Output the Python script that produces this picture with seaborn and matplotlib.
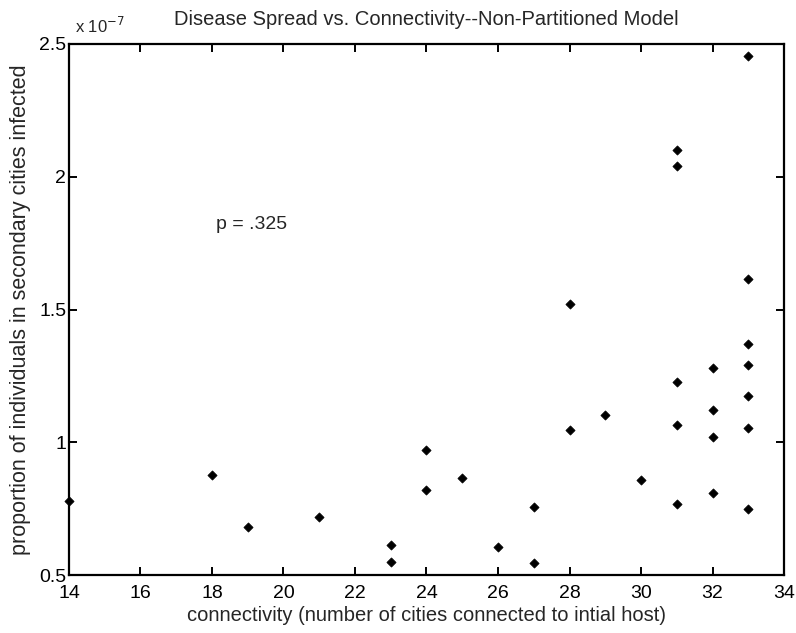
import matplotlib
matplotlib.use("Agg")
import matplotlib.pyplot as plt
import seaborn as sns
import pandas as pd

# connectivity (number of cities connected to initial host)
connectivity = [14, 18, 19, 21, 23, 23, 24, 24,
                25, 26, 27, 27, 28, 30, 31, 31, 32, 32, 33, 33,
                31, 31, 33, 28, 33, 33, 32, 31, 33, 32, 29, 33]
# proportion infected, in units of 1e-7
proportion_e7 = [0.78, 0.875, 0.68, 0.717, 0.613, 0.55, 0.97, 0.822,
                 0.864, 0.606, 0.755, 0.546, 1.048, 0.856, 0.767, 1.064, 0.808, 1.02, 0.748, 1.052,
                 2.10, 2.041, 1.615, 1.52, 1.37, 1.29, 1.281, 1.228, 1.174, 1.12, 1.104, 2.455]

x_ticks = [14, 16, 18, 20, 22, 24, 26, 28, 30, 32, 34]
y_ticks = [0.5, 1, 1.5, 2, 2.5]
y_tick_labels = ["0.5", "1", "1.5", "2", "2.5"]

df = pd.DataFrame({"connectivity": connectivity, "proportion": proportion_e7})

sns.set_style("white")
plt.rcParams["font.family"] = ["Liberation Sans", "DejaVu Sans"]

fig = plt.figure(figsize=(7.96, 6.33), dpi=100)
ax = fig.add_axes([69 / 796, 1 - 575 / 633, (784 - 69) / 796, (575 - 44) / 633])

sns.scatterplot(data=df, x="connectivity", y="proportion", ax=ax,
                marker="D", s=22, color="black", edgecolor="black", linewidth=0.5,
                clip_on=False, zorder=3)

ax.set_xlim(14, 34)
ax.set_ylim(0.5, 2.5)
ax.set_xticks(x_ticks)
ax.set_xticklabels([str(t) for t in x_ticks])
ax.set_yticks(y_ticks)
ax.set_yticklabels(y_tick_labels)

for sp in ax.spines.values():
    sp.set_visible(True)
    sp.set_linewidth(1.6)
    sp.set_color("black")

ax.tick_params(axis="both", direction="in", length=6, width=1.4, labelsize=14,
               top=True, right=True, bottom=True, left=True, colors="black")
ax.tick_params(axis="x", pad=7)
ax.tick_params(axis="y", pad=2)

ax.set_xlabel("connectivity (number of cities connected to intial host)", fontsize=14.5, labelpad=3)
ax.set_ylabel("proportion of individuals in secondary cities infected", fontsize=15.5, labelpad=6)
ax.set_title("Disease Spread vs. Connectivity--Non-Partitioned Model", fontsize=14.5, pad=14)

ax.text(0.008, 1.02, r"x 10$^{-7}$", transform=ax.transAxes, fontsize=12, ha="left", va="baseline")
ax.text(18.1, 1.82, "p = .325", fontsize=14, ha="left", va="center")

fig.savefig("out.png", dpi=100)
